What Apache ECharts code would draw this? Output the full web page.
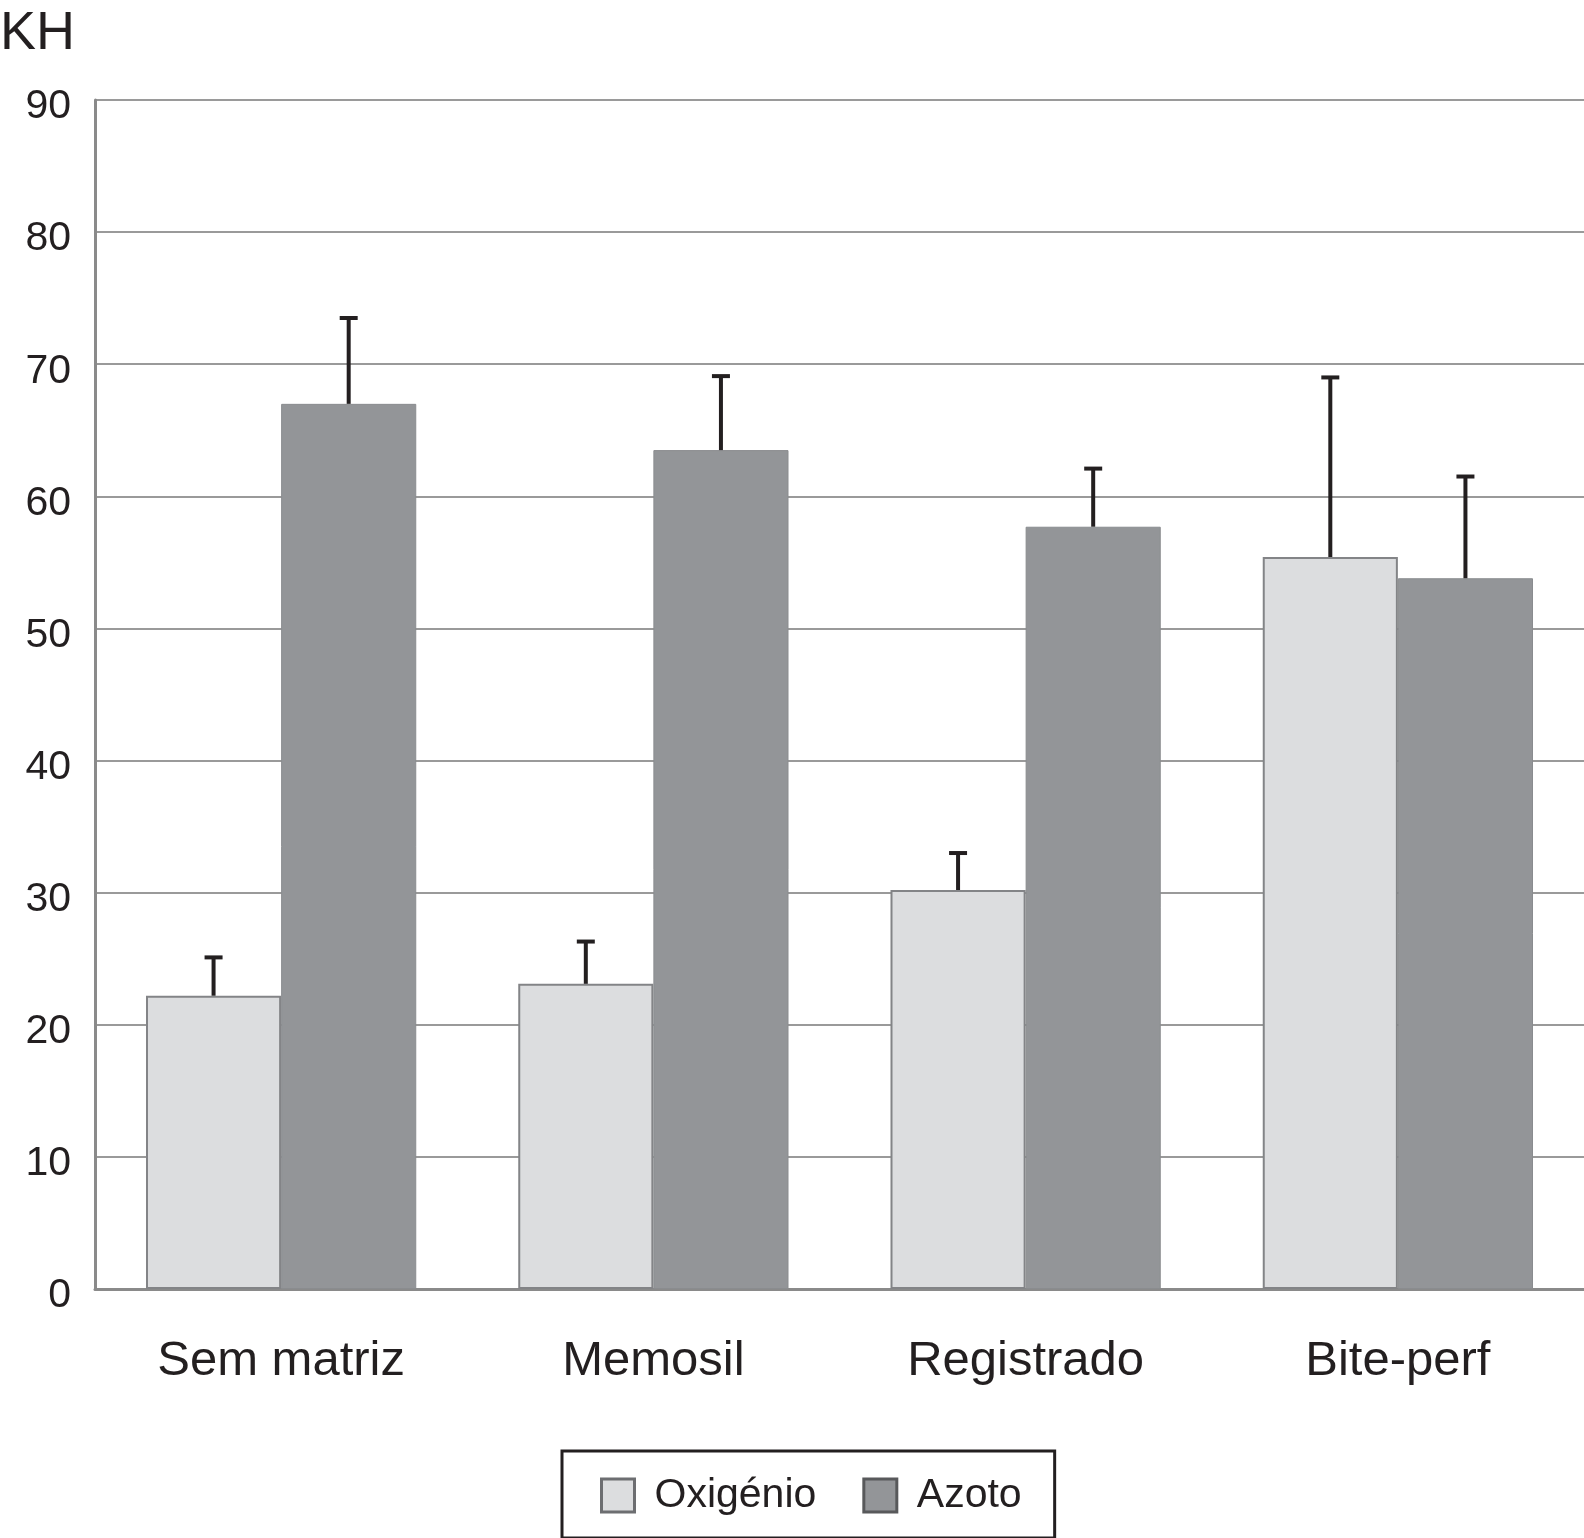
<!DOCTYPE html>
<html>
<head>
<meta charset="utf-8">
<script src="https://cdn.jsdelivr.net/npm/echarts@6/dist/echarts.min.js"></script>
<style>
html,body{margin:0;padding:0;background:#fff;}
#chart{width:1584px;height:1538px;}
</style>
</head>
<body>
<div id="chart"></div>
<script>
const categories = ['Sem matriz', 'Memosil', 'Registrado', 'Bite-perf'];
const seriesNames = ['Oxigénio', 'Azoto'];
const oxigenio = [22.2, 23.1, 30.2, 55.4];
const oxigenioErrTop = [25.1, 26.3, 33.0, 69.0];
const azoto = [67.0, 63.5, 57.7, 53.8];
const azotoErrTop = [73.5, 69.1, 62.1, 61.5];
const yTicks = [0, 10, 20, 30, 40, 50, 60, 70, 80, 90];

const FONT = "'Liberation Sans', Arial, Helvetica, sans-serif";
const BAR_FRAC = 0.363;

function errorSeries(values, tops, side) {
  return {
    type: 'custom',
    silent: true,
    z: 5,
    data: values.map((v, i) => [i, v, tops[i]]),
    renderItem: function (params, api) {
      const i = api.value(0);
      const base = api.coord([i, api.value(1)]);
      const top = api.coord([i, api.value(2)]);
      const band = api.size([1, 0])[0];
      const x = base[0] + side * band * BAR_FRAC / 2;
      const cap = 9;
      const style = { stroke: '#231f20', lineWidth: 4 };
      return {
        type: 'group',
        children: [
          { type: 'line', shape: { x1: x, y1: base[1], x2: x, y2: top[1] }, style: style },
          { type: 'line', shape: { x1: x - cap, y1: top[1], x2: x + cap, y2: top[1] }, style: style }
        ]
      };
    }
  };
}

const chart = echarts.init(document.getElementById('chart'), null, { renderer: 'canvas' });
chart.setOption({
  animation: false,
  backgroundColor: '#ffffff',
  title: {
    text: 'KH',
    left: 0,
    top: 7,
    padding: 0,
    textStyle: { fontFamily: FONT, fontSize: 54, fontWeight: 'normal', color: '#231f20' }
  },
  grid: { left: 95, right: 0, top: 100, bottom: 249, containLabel: false },
  legend: {
    data: [
      { name: seriesNames[0], icon: 'rect', itemStyle: { color: '#dcdddf', borderColor: '#6d6e71', borderWidth: 3 } },
      { name: seriesNames[1], icon: 'rect', itemStyle: { color: '#939598', borderColor: '#58595b', borderWidth: 3 } }
    ],
    left: 562,
    top: 1451,
    orient: 'horizontal',
    itemWidth: 33,
    itemHeight: 33,
    itemGap: 46,
    padding: [24, 33, 22, 38],
    borderColor: '#231f20',
    borderWidth: 3,
    textStyle: { fontFamily: FONT, fontSize: 41, color: '#231f20', padding: [0, 0, 0, 15] },
    selectedMode: false
  },
  xAxis: {
    type: 'category',
    data: categories,
    axisTick: { show: false },
    axisLine: { show: true, lineStyle: { color: '#8a8a8a', width: 3 } },
    axisLabel: { fontFamily: FONT, fontSize: 49, color: '#231f20', margin: 48 }
  },
  yAxis: {
    type: 'value',
    min: yTicks[0],
    max: yTicks[yTicks.length - 1],
    interval: 10,
    axisLine: { show: true, lineStyle: { color: '#8a8a8a', width: 3 } },
    axisTick: { show: false },
    axisLabel: {
      margin: 24,
      formatter: '{v|{value}}',
      rich: { v: { fontFamily: FONT, fontSize: 41, color: '#231f20', padding: [14, 0, 0, 0] } }
    },
    splitLine: { show: true, lineStyle: { color: '#9a9a9a', width: 2 } }
  },
  series: [
    {
      name: seriesNames[0],
      type: 'bar',
      data: oxigenio,
      barWidth: (BAR_FRAC * 100) + '%',
      barGap: '0%',
      itemStyle: { color: '#dcdddf', borderColor: '#838487', borderWidth: 2 },
      z: 3
    },
    {
      name: seriesNames[1],
      type: 'bar',
      data: azoto,
      barWidth: (BAR_FRAC * 100) + '%',
      barGap: '0%',
      itemStyle: { color: '#939598', borderColor: '#8a8c8f', borderWidth: 1 },
      z: 3
    },
    errorSeries(oxigenio, oxigenioErrTop, -1),
    errorSeries(azoto, azotoErrTop, 1)
  ]
});
</script>
</body>
</html>
